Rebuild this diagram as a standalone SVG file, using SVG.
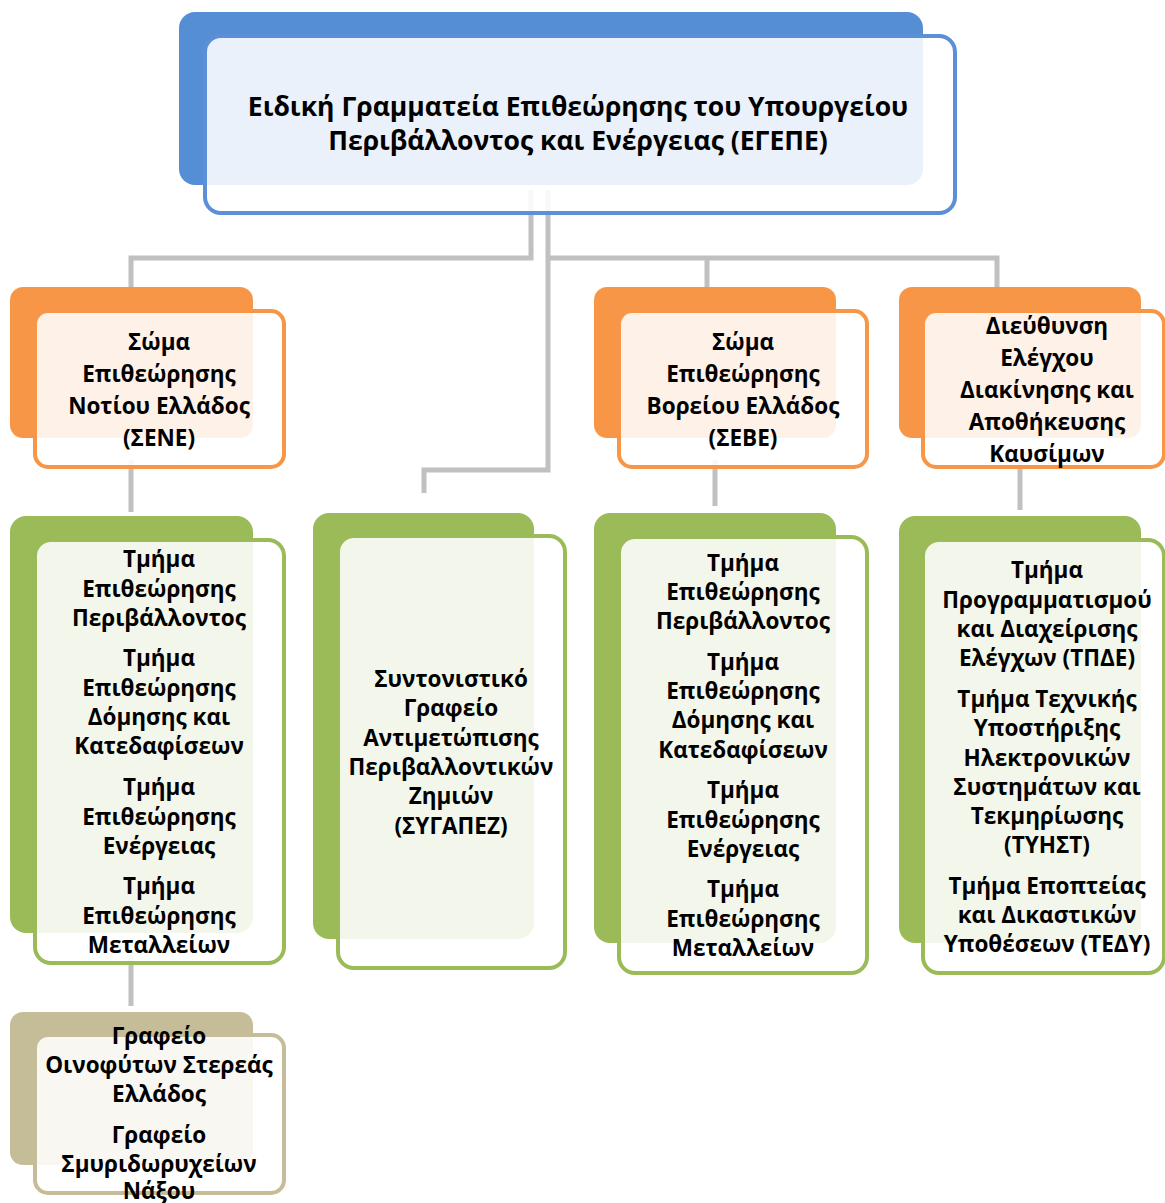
<svg xmlns="http://www.w3.org/2000/svg" width="1165" height="1203" viewBox="0 0 1165 1203">
<style>
.conn{fill:none;stroke:#C0C0C0;stroke-width:5;stroke-linejoin:miter}
.front{fill:#FFFFFF;fill-opacity:0.88;stroke-width:4}
.blue .back{fill:#558ED5}.blue .front{stroke:#5B8FD7}
.orange .back{fill:#F79646}.orange .front{stroke:#F79646}
.green .back{fill:#9BBB59}.green .front{stroke:#9BBB59}
.tan .back{fill:#C4BD97}.tan .front{stroke:#C4BD97}
text{font-family:"Open Sans","Noto Sans","DejaVu Sans",sans-serif;font-weight:bold;font-size:22.5px;fill:#000;text-anchor:middle;dominant-baseline:central}
.title text{font-size:26.5px}
</style>
<rect width="1165" height="1203" fill="#FFFFFF"/>
<g id="connectors">
<polyline class="conn" points="531,190 531,258 131,258 131,288"/>
<polyline class="conn" points="548,190 548,470 424,470 424,493"/>
<polyline class="conn" points="548,258 997,258 997,288"/>
<line class="conn" x1="707" y1="258" x2="707" y2="288"/>
<line class="conn" x1="131" y1="460" x2="131" y2="512"/>
<line class="conn" x1="715" y1="460" x2="715" y2="506"/>
<line class="conn" x1="1020" y1="460" x2="1020" y2="510"/>
<line class="conn" x1="131" y1="955" x2="131" y2="1006"/>
</g>
<g id="node-egepe" class="blue title">
<rect class="back" x="179" y="12" width="744" height="173" rx="16"/>
<rect class="front" x="205" y="36" width="750" height="177" rx="16"/>
<text x="578" y="106">Ειδική Γραμματεία Επιθεώρησης του Υπουργείου</text>
<text x="578" y="140">Περιβάλλοντος και Ενέργειας (ΕΓΕΠΕ)</text>
</g>
<g id="node-sene" class="orange">
<rect class="back" x="10" y="287" width="243" height="151" rx="13"/>
<rect class="front" x="35" y="311" width="249" height="156" rx="13"/>
<text x="159" y="341">Σώμα</text>
<text x="159" y="373">Επιθεώρησης</text>
<text x="159" y="405">Νοτίου Ελλάδος</text>
<text x="159" y="437">(ΣΕΝΕ)</text>
</g>
<g id="node-sebe" class="orange">
<rect class="back" x="594" y="287" width="242" height="151" rx="13"/>
<rect class="front" x="619" y="311" width="248" height="156" rx="13"/>
<text x="743" y="341">Σώμα</text>
<text x="743" y="373">Επιθεώρησης</text>
<text x="743" y="405">Βορείου Ελλάδος</text>
<text x="743" y="437">(ΣΕΒΕ)</text>
</g>
<g id="node-fuel" class="orange">
<rect class="back" x="899" y="287" width="242" height="151" rx="13"/>
<rect class="front" x="923" y="311" width="241" height="156" rx="13"/>
<text x="1047" y="325">Διεύθυνση</text>
<text x="1047" y="357">Ελέγχου</text>
<text x="1047" y="389">Διακίνησης και</text>
<text x="1047" y="421">Αποθήκευσης</text>
<text x="1047" y="453">Καυσίμων</text>
</g>
<g id="node-sene-depts" class="green">
<rect class="back" x="10" y="516" width="243" height="417" rx="16"/>
<rect class="front" x="35" y="540" width="249" height="423" rx="16"/>
<text x="159" y="558">Τμήμα</text>
<text x="159" y="588">Επιθεώρησης</text>
<text x="159" y="617">Περιβάλλοντος</text>
<text x="159" y="657">Τμήμα</text>
<text x="159" y="687">Επιθεώρησης</text>
<text x="159" y="716">Δόμησης και</text>
<text x="159" y="745">Κατεδαφίσεων</text>
<text x="159" y="786">Τμήμα</text>
<text x="159" y="816">Επιθεώρησης</text>
<text x="159" y="845">Ενέργειας</text>
<text x="159" y="885">Τμήμα</text>
<text x="159" y="915">Επιθεώρησης</text>
<text x="159" y="944">Μεταλλείων</text>
</g>
<g id="node-sygapez" class="green">
<rect class="back" x="313" y="513" width="221" height="426" rx="16"/>
<rect class="front" x="338" y="536" width="227" height="432" rx="16"/>
<text x="451" y="678">Συντονιστικό</text>
<text x="451" y="707">Γραφείο</text>
<text x="451" y="737">Αντιμετώπισης</text>
<text x="451" y="766">Περιβαλλοντικών</text>
<text x="451" y="795">Ζημιών</text>
<text x="451" y="825">(ΣΥΓΑΠΕΖ)</text>
</g>
<g id="node-sebe-depts" class="green">
<rect class="back" x="594" y="513" width="242" height="430" rx="16"/>
<rect class="front" x="619" y="537" width="248" height="436" rx="16"/>
<text x="743" y="562">Τμήμα</text>
<text x="743" y="591">Επιθεώρησης</text>
<text x="743" y="620">Περιβάλλοντος</text>
<text x="743" y="661">Τμήμα</text>
<text x="743" y="690">Επιθεώρησης</text>
<text x="743" y="719">Δόμησης και</text>
<text x="743" y="749">Κατεδαφίσεων</text>
<text x="743" y="789">Τμήμα</text>
<text x="743" y="819">Επιθεώρησης</text>
<text x="743" y="848">Ενέργειας</text>
<text x="743" y="888">Τμήμα</text>
<text x="743" y="918">Επιθεώρησης</text>
<text x="743" y="947">Μεταλλείων</text>
</g>
<g id="node-fuel-depts" class="green">
<rect class="back" x="899" y="516" width="242" height="427" rx="16"/>
<rect class="front" x="923" y="540" width="241" height="433" rx="16"/>
<text x="1047" y="569">Τμήμα</text>
<text x="1047" y="599">Προγραμματισμού</text>
<text x="1047" y="628">και Διαχείρισης</text>
<text x="1047" y="657">Ελέγχων (ΤΠΔΕ)</text>
<text x="1047" y="698">Τμήμα Τεχνικής</text>
<text x="1047" y="727">Υποστήριξης</text>
<text x="1047" y="757">Ηλεκτρονικών</text>
<text x="1047" y="786">Συστημάτων και</text>
<text x="1047" y="815">Τεκμηρίωσης</text>
<text x="1047" y="844">(ΤΥΗΣΤ)</text>
<text x="1047" y="885">Τμήμα Εποπτείας</text>
<text x="1047" y="914">και Δικαστικών</text>
<text x="1047" y="943">Υποθέσεων (ΤΕΔΥ)</text>
</g>
<g id="node-offices" class="tan">
<rect class="back" x="10" y="1012" width="243" height="153" rx="13"/>
<rect class="front" x="35" y="1035" width="249" height="158" rx="13"/>
<text x="159" y="1035">Γραφείο</text>
<text x="159" y="1064">Οινοφύτων Στερεάς</text>
<text x="159" y="1093">Ελλάδος</text>
<text x="159" y="1134">Γραφείο</text>
<text x="159" y="1163">Σμυριδωρυχείων</text>
<text x="159" y="1190">Νάξου</text>
</g>
</svg>
